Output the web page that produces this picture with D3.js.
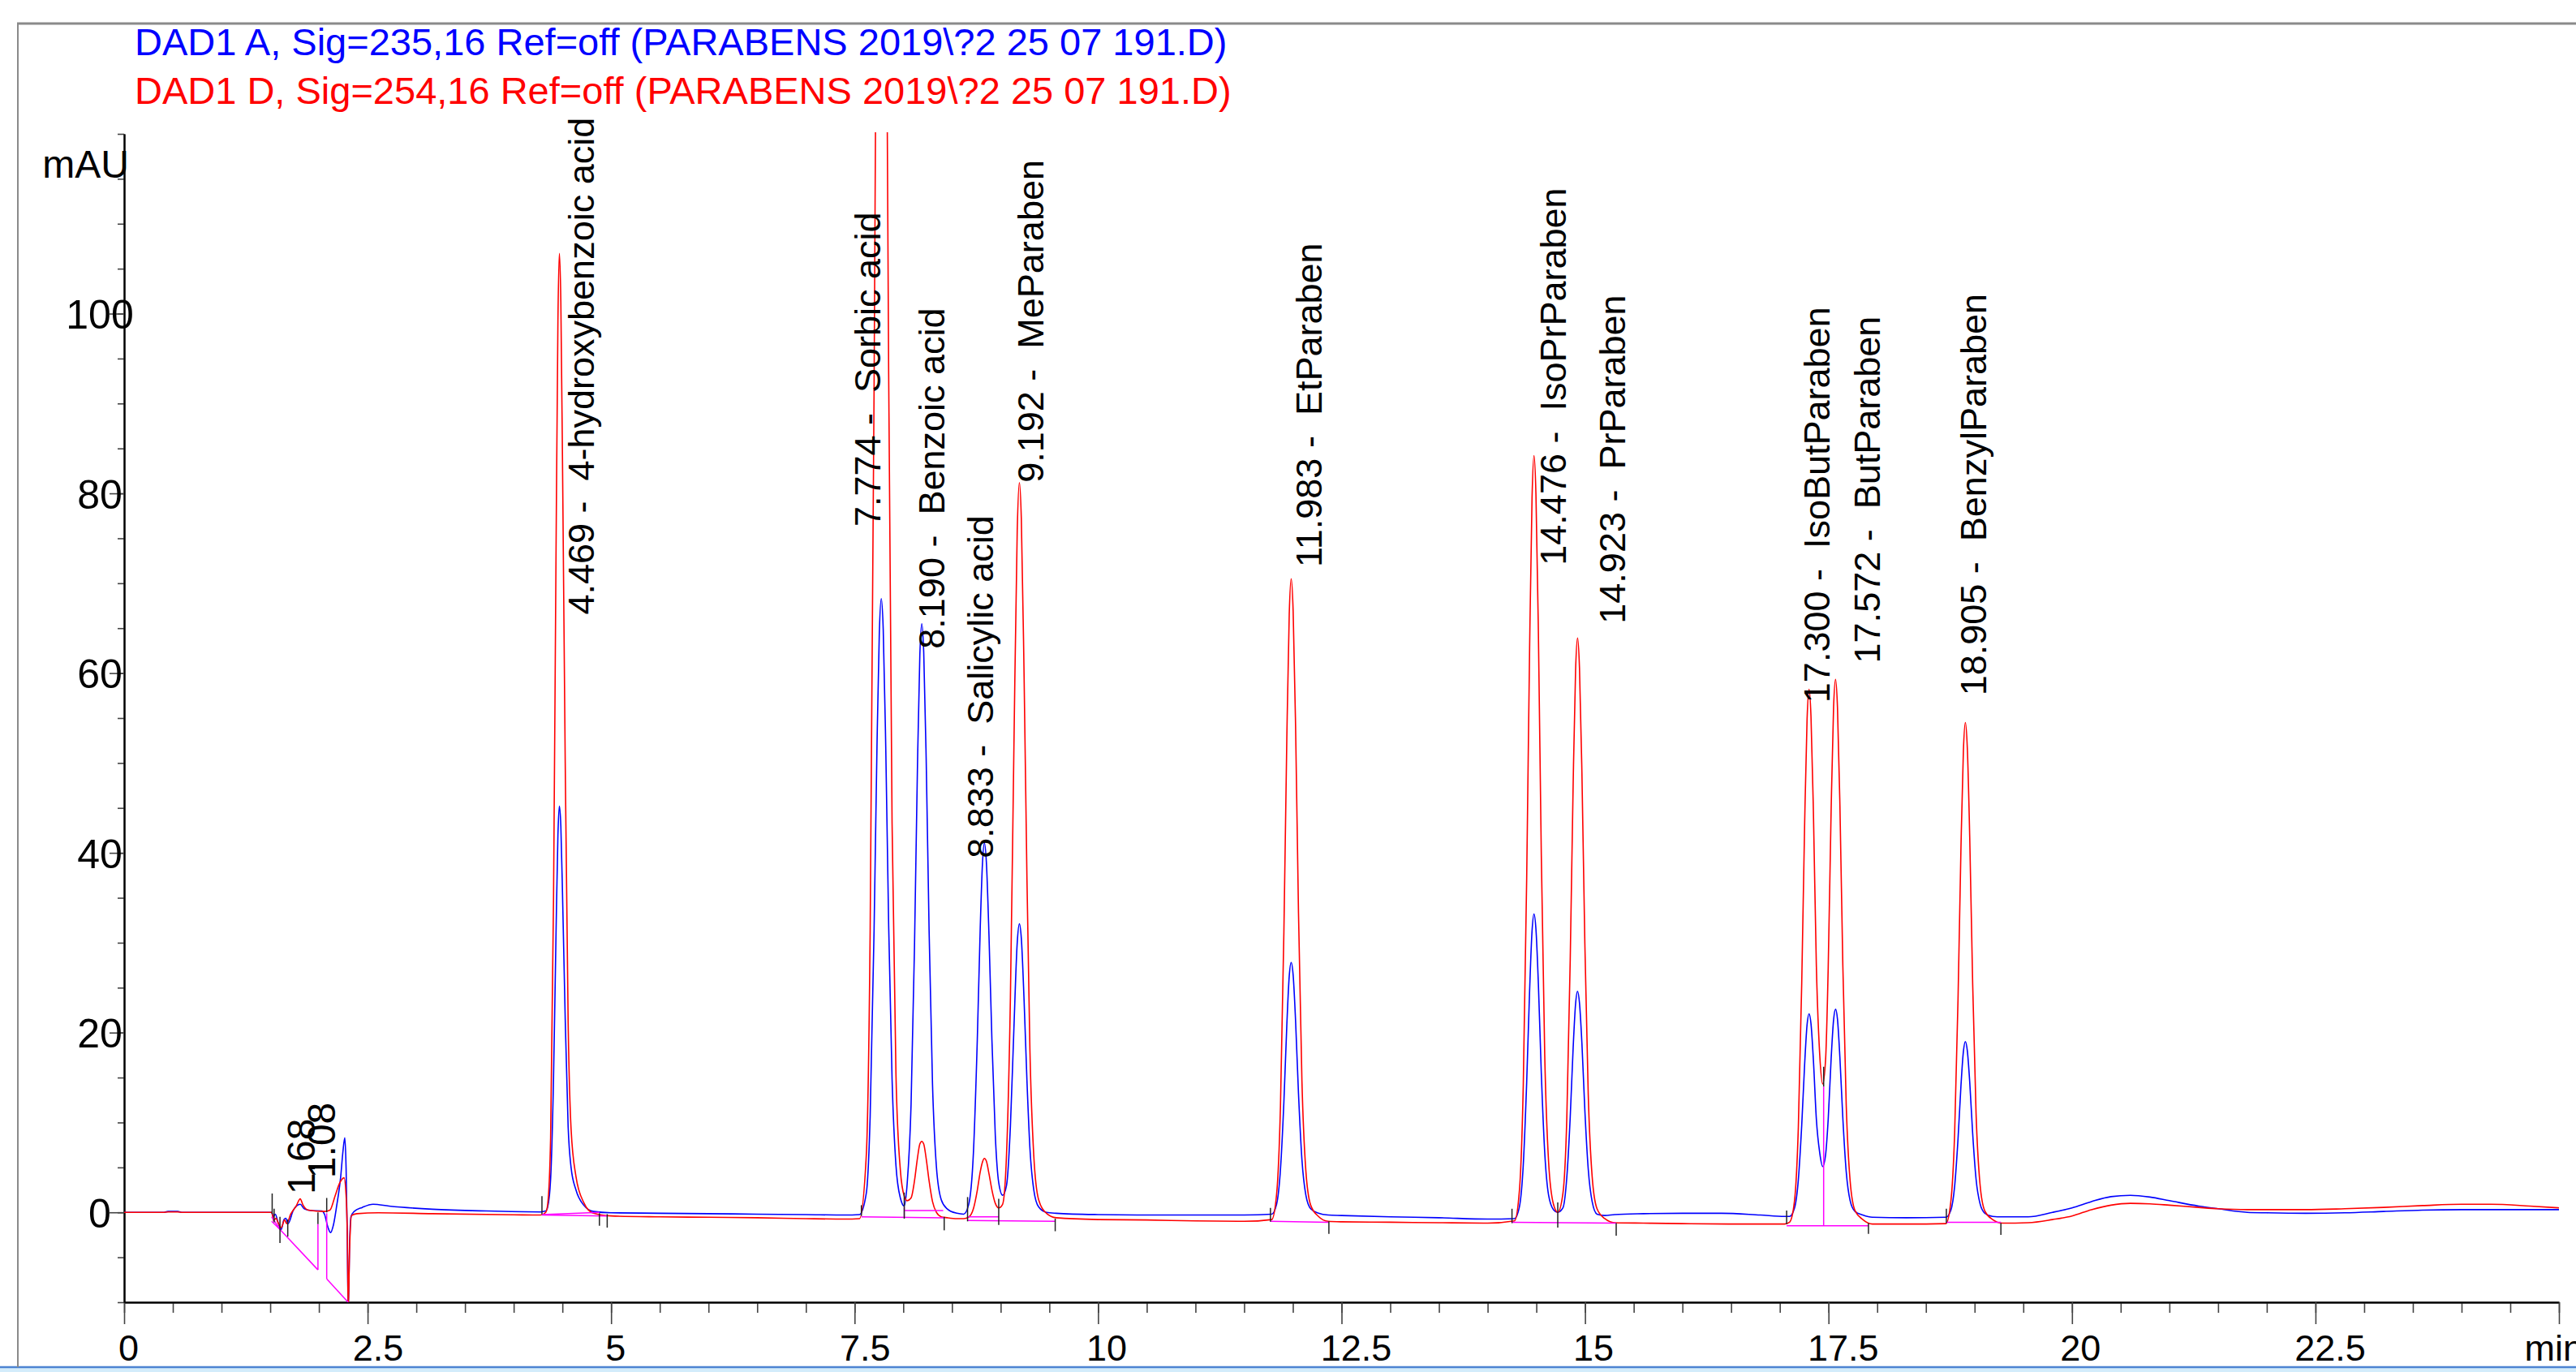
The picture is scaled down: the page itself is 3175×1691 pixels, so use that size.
<!DOCTYPE html>
<html><head><meta charset="utf-8">
<script src="https://cdn.jsdelivr.net/npm/d3@7"></script>
<style>
html,body{margin:0;padding:0;background:#fff}
svg{display:block}
text{font-family:"Liberation Sans",Arial,sans-serif}
</style></head><body>
<svg id="chart" width="3175" height="1691"></svg>
<script>
// signal A (235 nm, blue) and signal D (254 nm, red): [min, mAU]
const sigA=[[0,0],[0.4,0],[0.45,0.1],[0.55,0.1],[0.6,0],[1.0,0],[1.516,0],[1.53,-0.5],[1.552,-0.2],[1.58,-1.1],[1.613,-1.9],[1.641,-0.8],[1.66,-0.65],[1.683,-1.25],[1.738,0.25],[1.808,0.9],[1.849,0.4],[1.918,0.2],[2.029,0.15],[2.057,-0.2],[2.091,-1.6],[2.119,-2.25],[2.149,-1.4],[2.182,0.7],[2.224,4.0],[2.246,6.7],[2.266,8.3],[2.279,4.9],[2.29,-2.0],[2.301,-11],[2.315,-3.5],[2.329,-0.5],[2.362,0.1],[2.445,0.55],[2.556,0.9],[2.72,0.7],[3.165,0.35],[3.72,0.15],[4.276,0.05],
[4.329,0.15],[4.349,0.6],[4.379,3.7],[4.409,15],[4.434,30.7],[4.454,42],[4.469,45.2],[4.484,43],[4.504,34],[4.529,21.5],[4.559,9.5],[4.589,5.0],[4.639,2.5],[4.719,0.8],[4.819,0.1],
[5.0,-0.05],[5.5,-0.1],[6.0,-0.15],[6.5,-0.2],[7.0,-0.25],[7.4,-0.3],[7.55,-0.25],
[7.62,2.1],[7.66,10.7],[7.70,31.3],[7.73,51.8],[7.754,64.5],[7.774,68.3],[7.794,64.9],[7.82,51.8],[7.85,31.9],[7.885,14.8],[7.925,5.2],[7.97,1.6],[8.01,0.7],[8.04,3.2],[8.08,12.0],[8.115,29.5],[8.145,49.2],[8.17,62.0],[8.19,65.5],[8.21,62.3],[8.235,50.5],[8.265,31.4],[8.30,14.3],[8.34,5.1],[8.39,1.4],[8.45,0.4],[8.55,-0.1],[8.62,-0.2],[8.67,0.8],[8.72,6.6],[8.76,19.2],[8.79,31.6],[8.813,38.8],[8.833,41.1],[8.853,39.0],[8.88,30.8],[8.91,19.2],[8.945,8.5],[8.98,3.3],[9.02,1.9],[9.06,3.0],[9.10,9.6],[9.135,20.2],[9.17,30.0],[9.192,32.1],[9.212,30.5],[9.24,23.7],[9.27,14.6],[9.30,7.2],[9.34,2.5],[9.39,0.6],[9.47,0],[9.57,-0.1],
[10.0,-0.25],[10.5,-0.3],[11.0,-0.3],[11.5,-0.3],
[11.783,-0.2],[11.833,0.9],[11.873,4.8],[11.908,12.3],[11.938,20.8],[11.963,26.3],[11.983,27.8],[12.003,26.4],[12.028,21.3],[12.058,13.2],[12.093,5.9],[12.133,1.95],[12.183,0.4],[12.263,-0.1],[12.363,-0.3],
[12.5,-0.35],[13.0,-0.5],[13.5,-0.6],[14.0,-0.75],
[14.276,-0.7],[14.326,0.6],[14.366,5.3],[14.401,14.5],[14.431,24.7],[14.456,31.3],[14.476,33.2],[14.496,31.5],[14.521,25.4],[14.551,15.5],[14.586,6.7],[14.626,1.9],[14.676,0.3],[14.72,0.0],[14.773,0.5],[14.813,3.9],[14.848,10.6],[14.878,18.3],[14.903,23.2],[14.923,24.6],[14.943,23.3],[14.968,18.8],[14.998,11.4],[15.033,4.8],[15.073,1.2],[15.123,-0.2],[15.203,-0.35],[15.303,-0.25],
[15.6,-0.15],[16.0,-0.1],[16.4,-0.1],[16.8,-0.3],[17.05,-0.45],
[17.10,-0.45],[17.15,0.45],[17.19,3.6],[17.225,9.7],[17.255,16.5],[17.28,20.9],[17.30,22.1],[17.32,21.0],[17.345,16.9],[17.375,10.4],[17.41,6.6],[17.44,5.1],[17.47,6.4],[17.497,10.4],[17.527,17.1],[17.552,21.4],[17.572,22.6],[17.592,21.5],[17.617,17.2],[17.647,10.5],[17.682,4.5],[17.722,1.3],[17.772,0.1],[17.852,-0.3],[17.95,-0.55],
[18.3,-0.6],
[18.705,-0.55],[18.755,0.2],[18.795,2.9],[18.83,8.2],[18.86,14.1],[18.885,17.9],[18.905,19.0],[18.925,18.0],[18.95,14.5],[18.98,8.8],[19.015,3.7],[19.055,1.0],[19.105,-0.1],[19.185,-0.45],[19.285,-0.5],
[19.55,-0.5],[19.8,0.0],[20.0,0.5],[20.2,1.2],[20.4,1.75],[20.6,1.9],[20.8,1.7],[21.0,1.3],[21.3,0.7],[21.5,0.4],[21.8,0.0],[22.0,-0.05],[22.4,-0.1],[22.8,-0.05],[23.2,0.1],[23.6,0.25],[24.0,0.3],[24.5,0.3],[25.0,0.3]];

const sigD=[[0,0],[0.4,0],[0.45,0.05],[0.55,0.05],[0.6,0],[1.0,0],[1.516,0],[1.535,-0.95],[1.558,-0.65],[1.585,-1.25],[1.613,-1.7],[1.647,-0.85],[1.669,-1.25],[1.71,-0.2],[1.766,0.7],[1.808,1.5],[1.835,0.85],[1.891,0.25],[2.057,0.1],[2.113,0.25],[2.168,1.9],[2.21,3.2],[2.258,3.85],[2.279,1.9],[2.293,-3.5],[2.301,-11],[2.315,-4.1],[2.335,-0.35],[2.39,-0.15],[2.61,-0.05],[3.165,-0.15],[4.0,-0.27],[4.276,-0.3],
[4.329,0.0],[4.349,0.9],[4.379,8.3],[4.409,35],[4.434,72.5],[4.454,99.2],[4.469,106.7],[4.484,101.3],[4.504,80],[4.529,50],[4.559,21.1],[4.589,9.3],[4.639,4.0],[4.719,1.1],[4.819,-0.1],
[5.0,-0.4],[5.5,-0.5],[6.0,-0.55],[6.5,-0.6],[7.0,-0.7],[7.4,-0.75],[7.55,-0.7],
[7.62,6.3],[7.66,31.3],[7.70,91.3],[7.73,151],[7.754,188],[7.774,199],[7.794,189],[7.82,151],[7.85,93.3],[7.885,43.3],[7.925,15.3],[7.97,4.7],[8.01,1.8],[8.04,1.3],[8.08,1.6],[8.115,3.5],[8.145,6.0],[8.17,7.6],[8.19,7.9],[8.21,7.6],[8.235,6.0],[8.265,3.5],[8.30,1.2],[8.34,0.0],[8.39,-0.5],[8.45,-0.6],[8.55,-0.7],[8.62,-0.7],[8.67,-0.55],[8.72,0.4],[8.76,2.45],[8.79,4.5],[8.813,5.6],[8.833,6.0],[8.853,5.7],[8.88,4.3],[8.91,2.5],[8.945,1.0],[8.98,0.5],[9.02,0.9],[9.06,6.4],[9.10,23.9],[9.135,51],[9.17,75.9],[9.192,81.2],[9.212,77.2],[9.24,60],[9.27,37],[9.30,18.2],[9.34,6.3],[9.39,1.4],[9.47,-0.1],[9.57,-0.6],
[10.0,-0.8],[10.5,-0.85],[11.0,-0.95],[11.5,-1.0],
[11.783,-0.8],[11.833,2.0],[11.873,11.9],[11.908,31.2],[11.938,52.6],[11.963,66.6],[11.983,70.5],[12.003,66.9],[12.028,54.1],[12.058,33.3],[12.093,14.7],[12.133,4.7],[12.183,0.8],[12.263,-0.45],[12.363,-1.0],
[12.5,-1.05],[13.0,-1.1],[13.5,-1.15],[14.0,-1.2],
[14.276,-0.95],[14.326,2.4],[14.366,14.2],[14.401,37.2],[14.431,62.8],[14.456,79.5],[14.476,84.2],[14.496,79.9],[14.521,64.6],[14.551,39.8],[14.586,17.6],[14.626,5.6],[14.676,0.9],[14.72,0.0],[14.773,2.1],[14.813,10.5],[14.848,28.1],[14.878,47.6],[14.903,60.3],[14.923,63.9],[14.943,60.6],[14.968,48.9],[14.998,30],[15.033,13.1],[15.073,4.0],[15.123,0.4],[15.203,-0.7],[15.303,-1.15],
[15.6,-1.2],[16.0,-1.25],[16.5,-1.3],[17.05,-1.3],
[17.10,-1.1],[17.15,1.2],[17.19,9.4],[17.225,25.5],[17.255,43.3],[17.28,54.9],[17.30,58.2],[17.32,55.2],[17.345,44.5],[17.375,27.5],[17.41,17.5],[17.44,14.3],[17.47,17.0],[17.497,27.3],[17.527,44.8],[17.552,56.2],[17.572,59.3],[17.592,56.2],[17.617,45.3],[17.647,27.5],[17.682,11.9],[17.722,3.5],[17.772,0.2],[17.852,-0.8],[17.95,-1.3],
[18.3,-1.3],
[18.705,-1.25],[18.755,1.1],[18.795,8.8],[18.83,23.8],[18.86,40.6],[18.885,51.4],[18.905,54.5],[18.925,51.7],[18.95,41.7],[18.98,25.5],[19.015,11.0],[19.055,3.2],[19.105,0.15],[19.185,-0.8],[19.285,-1.2],
[19.55,-1.15],[19.8,-0.8],[20.0,-0.4],[20.2,0.3],[20.4,0.8],[20.6,1.0],[20.8,0.95],[21.0,0.8],[21.3,0.55],[21.5,0.4],[21.8,0.3],[22.0,0.3],[22.4,0.3],[22.8,0.4],[23.2,0.55],[23.6,0.75],[24.0,0.9],[24.3,0.9],[24.7,0.7],[25.0,0.5]];

// integration baselines [t1, mAU1, t2, mAU2]
const baseSegs=[[1.515,-0.5,1.60,-1.9],[1.515,-1.0,1.60,-1.9],[1.60,-1.9,1.99,-6.4],[1.99,-6.4,1.99,-1.3],[2.08,-0.1,2.08,-7.4],[2.08,-7.4,2.30,-10],
[4.29,-0.25,4.88,0.0],[4.29,-0.3,4.96,-0.4],
[7.57,-0.5,8.42,-0.6],[8.01,0.2,8.41,0.2],[8.01,-0.6,8.01,0.6],[8.66,-0.5,8.98,-0.5],[8.66,-0.9,9.56,-1.0],
[11.77,-1.0,12.37,-1.1],[14.25,-1.1,15.32,-1.2],[17.07,-1.5,17.91,-1.5],[17.45,-1.5,17.45,14.0],[18.71,-1.1,19.27,-1.1]];
// peak start/end marks [t, mAU top, mAU bottom]
const marks=[[1.52,2.1,-0.2],[1.54,0.4,-1.1],[1.60,-0.5,-3.4],[1.68,-0.8,-2.7],[1.99,0,-1.3],[2.08,1.6,0],
[4.29,1.8,-0.2],[4.88,-0.1,-1.5],[4.96,-0.2,-1.7],[7.57,0.8,-0.4],[8.01,2.2,-0.7],[8.42,-0.5,-2.0],[8.66,1.7,-1.0],[8.98,1.5,-1.4],[9.56,-0.7,-2.1],
[11.77,0.5,-1.05],[12.37,-1.0,-2.4],[14.25,0.4,-1.2],[14.72,1.1,-1.7],[15.32,-1.2,-2.6],[17.07,0.2,-1.3],[17.45,16.2,14.0],[17.91,-1.2,-2.4],[18.71,0.4,-1.2],[19.27,-1.2,-2.5]];

const peakRT=['1.68','1.08','4.469','7.774','8.190','8.833','9.192','11.983','14.476','14.923','17.300','17.572','18.905'];
const peakName=['','','4-hydroxybenzoic acid','Sorbic acid','Benzoic acid','Salicylic acid','MeParaben','EtParaben','IsoPrParaben','PrParaben','IsoButParaben','ButParaben','BenzylParaben'];
const labelT=[1.81,2.02,4.685,7.63,8.29,8.79,9.30,12.16,14.67,15.28,17.38,17.89,18.98];
const labelV=[2.0,3.8,66.5,76.3,62.7,39.4,81.2,71.8,72.0,65.5,56.7,61.1,57.5];

const legendText=['DAD1 A, Sig=235,16 Ref=off (PARABENS 2019\\?2 25 07 191.D)','DAD1 D, Sig=254,16 Ref=off (PARABENS 2019\\?2 25 07 191.D)'];
const xMajor=[0,2.5,5,7.5,10,12.5,15,17.5,20,22.5,25];
const xTickLabels=['0','2.5','5','7.5','10','12.5','15','17.5','20','22.5','min'];
const yMajor=[0,20,40,60,80,100];
const yTickLabels=['0','20','40','60','80','100'];

const W=3175,H=1691,m={l:153,r:3154,t:165,b:1605};
const x=d3.scaleLinear().domain([0,25]).range([m.l,m.r]);
const y=d3.scaleLinear().domain([-10,120]).range([m.b,m.t]);
const svg=d3.select('#chart');

// window frame
svg.append('rect').attr('x',0).attr('y',1686).attr('width',W).attr('height',H-1686).attr('fill','#d3ecfb');
svg.append('line').attr('x1',0).attr('x2',W).attr('y1',1685).attr('y2',1685).attr('stroke','#4d84d2').attr('stroke-width',2.5);
svg.append('line').attr('x1',21).attr('x2',W).attr('y1',29).attr('y2',29).attr('stroke','#8a8a8a').attr('stroke-width',3);
svg.append('line').attr('x1',22).attr('x2',22).attr('y1',29).attr('y2',1685).attr('stroke','#8a8a8a').attr('stroke-width',2);

// legend
svg.selectAll('.leg').data(legendText).join('text').attr('class','leg')
  .attr('x',166).attr('y',(d,i)=>68+i*60).attr('font-size',47)
  .attr('fill',(d,i)=>i?'#ff0000':'#0000ff').text(d=>d);

// axes
function styleAxis(g){g.select('.domain').attr('stroke','#000').attr('stroke-width',2);g.selectAll('.tick line').attr('stroke','#444').attr('stroke-width',1.6);}
svg.append('g').attr('transform',`translate(0,${m.b})`)
  .call(d3.axisBottom(x).tickValues(d3.range(0,25.01,0.5)).tickSize(13).tickSizeOuter(0).tickFormat('')).call(styleAxis);
const gx=svg.append('g').attr('transform',`translate(0,${m.b})`)
  .call(d3.axisBottom(x).tickValues(xMajor).tickSize(27).tickSizeOuter(0).tickFormat((d,i)=>xTickLabels[i])).call(styleAxis);
gx.selectAll('.tick text').attr('font-size',45).attr('font-family','"Liberation Sans",Arial,sans-serif').attr('fill','#000')
  .attr('y',72).attr('dy',0)
  .each(function(d,i){const t=d3.select(this);
    if(xTickLabels[i]==='min'){t.attr('text-anchor','start').attr('x',-43)}
    else t.attr('x',0.2*this.getComputedTextLength());});

svg.append('g').attr('transform',`translate(${m.l},0)`)
  .call(d3.axisLeft(y).tickValues(d3.range(-10,120.1,5)).tickSize(8).tickSizeOuter(0).tickFormat('')).call(styleAxis);
const gy=svg.append('g').attr('transform',`translate(${m.l},0)`)
  .call(d3.axisLeft(y).tickValues(yMajor).tickSize(18).tickSizeOuter(0).tickFormat((d,i)=>yTickLabels[i])).call(styleAxis);
gy.selectAll('.tick text').attr('font-size',50).attr('font-family','"Liberation Sans",Arial,sans-serif').attr('fill','#000')
  .attr('text-anchor','middle').attr('x',-30).attr('dy','0.36em');
svg.append('text').attr('x',159).attr('y',219).attr('text-anchor','end').attr('font-size',48).text('mAU');

// traces
svg.append('clipPath').attr('id','plot').append('rect').attr('x',m.l).attr('y',m.t-2).attr('width',m.r-m.l).attr('height',m.b-m.t+2);
const plot=svg.append('g').attr('clip-path','url(#plot)');
const line=d3.line().x(d=>x(d[0])).y(d=>y(d[1])).curve(d3.curveMonotoneX);
plot.append('path').datum(sigA).attr('fill','none').attr('stroke','#0000ff').attr('stroke-width',1.6).attr('d',line);
plot.append('path').datum(sigD).attr('fill','none').attr('stroke','#ff0000').attr('stroke-width',1.6).attr('d',line);
plot.selectAll('.bl').data(baseSegs).join('line').attr('class','bl')
  .attr('x1',d=>x(d[0])).attr('y1',d=>y(d[1])).attr('x2',d=>x(d[2])).attr('y2',d=>y(d[3]))
  .attr('stroke','#ff00ff').attr('stroke-width',1.5);
plot.selectAll('.mk').data(marks).join('line').attr('class','mk')
  .attr('x1',d=>x(d[0])).attr('x2',d=>x(d[0])).attr('y1',d=>y(d[1])).attr('y2',d=>y(d[2]))
  .attr('stroke','#222').attr('stroke-width',1.5);

// peak annotations
svg.selectAll('.pk').data(peakRT).join('text').attr('class','pk')
  .attr('transform',(d,i)=>`translate(${x(labelT[i])},${y(labelV[i])}) rotate(-90)`)
  .attr('dy','0.36em').attr('font-size',(d,i)=>peakName[i]?45:48).style('white-space','pre')
  .text((d,i)=>peakName[i]?d+' -  '+peakName[i]:d);
</script></body></html>
